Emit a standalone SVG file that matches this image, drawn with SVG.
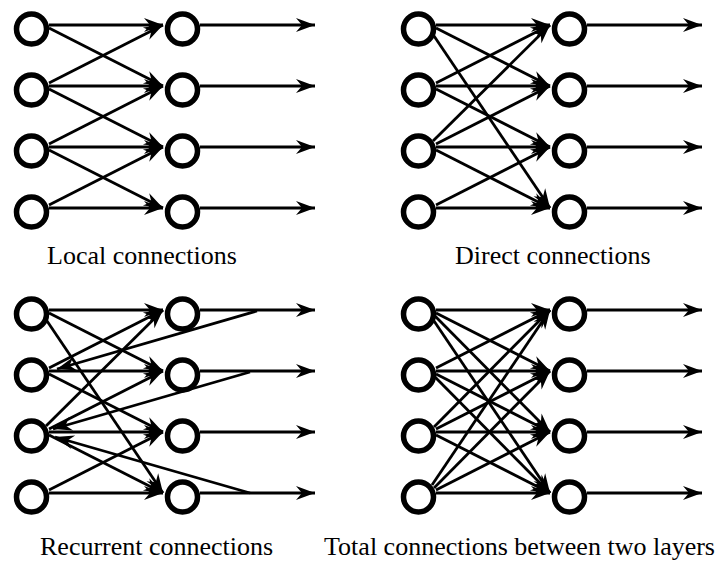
<svg xmlns="http://www.w3.org/2000/svg" width="719" height="562" viewBox="0 0 719 562">
  <defs>
    <marker id="arrow" markerUnits="userSpaceOnUse" markerWidth="24" markerHeight="16" refX="21" refY="8" orient="auto" overflow="visible">
      <path d="M21,8 L2,1 L8,8 L2,15 Z" fill="#000"/>
    </marker>
  </defs>
  <style>
    .c line { stroke: #000; stroke-width: 2.8; fill: none; marker-end: url(#arrow); }
    .n circle { fill: #fff; stroke: #000; stroke-width: 5.5; }
    .lbl { font-family: "Liberation Serif", "Times New Roman", serif; font-size: 26px; fill: #000; }
  </style>
  <rect width="719" height="562" fill="#fff"/>

  <!-- Local connections -->
  <g id="local" transform="translate(0,0)">
    <g class="c" id="local-connectors">
      <line x1="49" y1="25" x2="163" y2="25"/>
      <line x1="49" y1="86" x2="163" y2="86"/>
      <line x1="49" y1="147" x2="163" y2="147"/>
      <line x1="49" y1="208" x2="163" y2="208"/>
      <line x1="49" y1="28" x2="163" y2="86"/>
      <line x1="49" y1="89" x2="163" y2="147"/>
      <line x1="49" y1="150" x2="163" y2="208"/>
      <line x1="49" y1="83" x2="163" y2="25"/>
      <line x1="49" y1="144" x2="163" y2="86"/>
      <line x1="49" y1="205" x2="163" y2="147"/>
      <line x1="200" y1="25" x2="315" y2="25"/>
      <line x1="200" y1="86" x2="315" y2="86"/>
      <line x1="200" y1="147" x2="315" y2="147"/>
      <line x1="200" y1="208" x2="315" y2="208"/>
    </g>
    <g class="n" id="local-in1"><circle cx="31.5" cy="29" r="15"/></g>
    <g class="n" id="local-in2"><circle cx="31.5" cy="90" r="15"/></g>
    <g class="n" id="local-in3"><circle cx="31.5" cy="151" r="15"/></g>
    <g class="n" id="local-in4"><circle cx="31.5" cy="212" r="15"/></g>
    <g class="n" id="local-out1"><circle cx="182.5" cy="29" r="15"/></g>
    <g class="n" id="local-out2"><circle cx="182.5" cy="90" r="15"/></g>
    <g class="n" id="local-out3"><circle cx="182.5" cy="151" r="15"/></g>
    <g class="n" id="local-out4"><circle cx="182.5" cy="212" r="15"/></g>
  </g>
  <text class="lbl" x="47" y="264">Local connections</text>

  <!-- Direct connections -->
  <g id="direct" transform="translate(387,0)">
    <g class="c" id="direct-connectors">
      <line x1="49" y1="25" x2="163" y2="25"/>
      <line x1="49" y1="86" x2="163" y2="86"/>
      <line x1="49" y1="147" x2="163" y2="147"/>
      <line x1="49" y1="208" x2="163" y2="208"/>
      <line x1="49" y1="28" x2="163" y2="86"/>
      <line x1="45" y1="33" x2="163" y2="208"/>
      <line x1="49" y1="83" x2="163" y2="25"/>
      <line x1="49" y1="89" x2="163" y2="147"/>
      <line x1="46" y1="141" x2="163" y2="25"/>
      <line x1="49" y1="144" x2="163" y2="86"/>
      <line x1="49" y1="150" x2="163" y2="208"/>
      <line x1="49" y1="205" x2="163" y2="147"/>
      <line x1="200" y1="25" x2="315" y2="25"/>
      <line x1="200" y1="86" x2="315" y2="86"/>
      <line x1="200" y1="147" x2="315" y2="147"/>
      <line x1="200" y1="208" x2="315" y2="208"/>
    </g>
    <g class="n" id="direct-in1"><circle cx="31.5" cy="29" r="15"/></g>
    <g class="n" id="direct-in2"><circle cx="31.5" cy="90" r="15"/></g>
    <g class="n" id="direct-in3"><circle cx="31.5" cy="151" r="15"/></g>
    <g class="n" id="direct-in4"><circle cx="31.5" cy="212" r="15"/></g>
    <g class="n" id="direct-out1"><circle cx="182.5" cy="29" r="15"/></g>
    <g class="n" id="direct-out2"><circle cx="182.5" cy="90" r="15"/></g>
    <g class="n" id="direct-out3"><circle cx="182.5" cy="151" r="15"/></g>
    <g class="n" id="direct-out4"><circle cx="182.5" cy="212" r="15"/></g>
  </g>
  <text class="lbl" x="455" y="264">Direct connections</text>

  <!-- Recurrent connections -->
  <g id="recurrent" transform="translate(0,285)">
    <g class="c" id="recurrent-connectors">
      <line x1="49" y1="25" x2="163" y2="25"/>
      <line x1="49" y1="86" x2="163" y2="86"/>
      <line x1="49" y1="147" x2="163" y2="147"/>
      <line x1="49" y1="208" x2="163" y2="208"/>
      <line x1="49" y1="28" x2="163" y2="86"/>
      <line x1="45" y1="33" x2="163" y2="208"/>
      <line x1="49" y1="83" x2="163" y2="25"/>
      <line x1="49" y1="89" x2="163" y2="147"/>
      <line x1="46" y1="141" x2="163" y2="25"/>
      <line x1="49" y1="144" x2="163" y2="86"/>
      <line x1="49" y1="150" x2="163" y2="208"/>
      <line x1="49" y1="205" x2="163" y2="147"/>
      <line x1="200" y1="25" x2="315" y2="25"/>
      <line x1="200" y1="86" x2="315" y2="86"/>
      <line x1="200" y1="147" x2="315" y2="147"/>
      <line x1="200" y1="208" x2="315" y2="208"/>
      <!-- feedback from the output lines -->
      <line x1="257" y1="26" x2="57" y2="84"/>
      <line x1="250" y1="87" x2="53" y2="144"/>
      <line x1="250" y1="208" x2="55" y2="152"/>
    </g>
    <g class="n" id="recurrent-in1"><circle cx="31.5" cy="29" r="15"/></g>
    <g class="n" id="recurrent-in2"><circle cx="31.5" cy="90" r="15"/></g>
    <g class="n" id="recurrent-in3"><circle cx="31.5" cy="151" r="15"/></g>
    <g class="n" id="recurrent-in4"><circle cx="31.5" cy="212" r="15"/></g>
    <g class="n" id="recurrent-out1"><circle cx="182.5" cy="29" r="15"/></g>
    <g class="n" id="recurrent-out2"><circle cx="182.5" cy="90" r="15"/></g>
    <g class="n" id="recurrent-out3"><circle cx="182.5" cy="151" r="15"/></g>
    <g class="n" id="recurrent-out4"><circle cx="182.5" cy="212" r="15"/></g>
  </g>
  <text class="lbl" x="40" y="555">Recurrent connections</text>

  <!-- Total connections -->
  <g id="total" transform="translate(387,285)">
    <g class="c" id="total-connectors">
      <line x1="49" y1="25" x2="163" y2="25"/>
      <line x1="49" y1="28" x2="163" y2="86"/>
      <line x1="47" y1="30" x2="163" y2="147"/>
      <line x1="45" y1="33" x2="163" y2="208"/>
      <line x1="49" y1="83" x2="163" y2="25"/>
      <line x1="49" y1="86" x2="163" y2="86"/>
      <line x1="49" y1="89" x2="163" y2="147"/>
      <line x1="47" y1="91" x2="163" y2="208"/>
      <line x1="47" y1="142" x2="163" y2="25"/>
      <line x1="49" y1="144" x2="163" y2="86"/>
      <line x1="49" y1="147" x2="163" y2="147"/>
      <line x1="49" y1="150" x2="163" y2="208"/>
      <line x1="45" y1="200" x2="163" y2="25"/>
      <line x1="47" y1="203" x2="163" y2="86"/>
      <line x1="49" y1="205" x2="163" y2="147"/>
      <line x1="49" y1="208" x2="163" y2="208"/>
      <line x1="200" y1="25" x2="315" y2="25"/>
      <line x1="200" y1="86" x2="315" y2="86"/>
      <line x1="200" y1="147" x2="315" y2="147"/>
      <line x1="200" y1="208" x2="315" y2="208"/>
    </g>
    <g class="n" id="total-in1"><circle cx="31.5" cy="29" r="15"/></g>
    <g class="n" id="total-in2"><circle cx="31.5" cy="90" r="15"/></g>
    <g class="n" id="total-in3"><circle cx="31.5" cy="151" r="15"/></g>
    <g class="n" id="total-in4"><circle cx="31.5" cy="212" r="15"/></g>
    <g class="n" id="total-out1"><circle cx="182.5" cy="29" r="15"/></g>
    <g class="n" id="total-out2"><circle cx="182.5" cy="90" r="15"/></g>
    <g class="n" id="total-out3"><circle cx="182.5" cy="151" r="15"/></g>
    <g class="n" id="total-out4"><circle cx="182.5" cy="212" r="15"/></g>
  </g>
  <text class="lbl" x="715" y="555" text-anchor="end">Total connections between two layers</text>
</svg>
